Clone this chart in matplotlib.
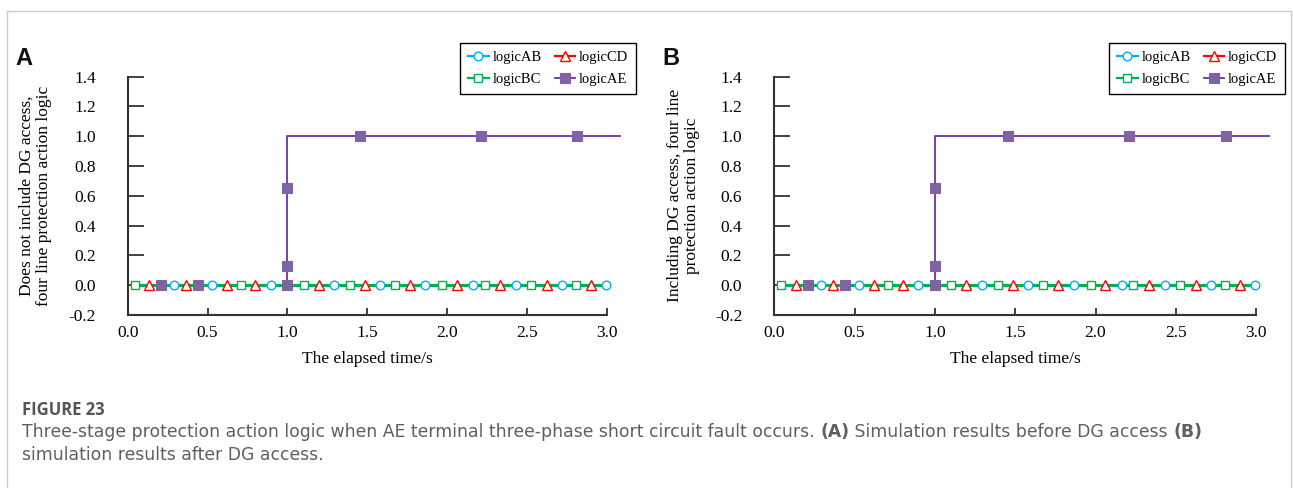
import matplotlib
matplotlib.use("Agg")
import matplotlib.pyplot as plt
from matplotlib.lines import Line2D
from matplotlib.patches import Rectangle

plt.rcParams['font.family'] = ['Liberation Serif', 'DejaVu Serif']
plt.rcParams['axes.unicode_minus'] = False

# ---- data: sampled logic states of the four line protections ----
t_AB = [0.288, 0.530, 0.897, 1.292, 1.582, 1.864, 2.162, 2.430, 2.720, 2.993]
logic_AB = [0, 0, 0, 0, 0, 0, 0, 0, 0, 0]

t_BC = [0.044, 0.709, 1.102, 1.390, 1.672, 1.970, 2.235, 2.528, 2.805]
logic_BC = [0, 0, 0, 0, 0, 0, 0, 0, 0]

t_CD = [0.133, 0.363, 0.620, 0.800, 1.196, 1.488, 1.766, 2.062, 2.334, 2.626, 2.899]
logic_CD = [0, 0, 0, 0, 0, 0, 0, 0, 0, 0, 0]

t_AE = [0.211, 0.443, 1.0, 1.0, 1.0, 1.457, 2.211, 2.812]
logic_AE = [0, 0, 0, 0.13, 0.65, 1, 1, 1]

# AE protection trips at 1.0 s and stays operated
ae_step_t = [0.044, 1.0, 1.0, 3.08]
ae_step_v = [0, 0, 1, 1]

x_ticks = [0.0, 0.5, 1.0, 1.5, 2.0, 2.5, 3.0]
y_ticks = [-0.2, 0.0, 0.2, 0.4, 0.6, 0.8, 1.0, 1.2, 1.4]

panel_letters = ['A', 'B']
y_labels = ['Does not include DG access,\nfour line protection action logic',
            'Including DG access, four line\nprotection action logic']
x_label = 'The elapsed time/s'
series_names = ['logicAB', 'logicBC', 'logicCD', 'logicAE']

caption_title = 'FIGURE 23'
caption_parts = [
    [('Three-stage protection action logic when AE terminal three-phase short circuit fault occurs. ', False),
     ('(A)', True), (' Simulation results before DG access ', False), ('(B)', True)],
    [('simulation results after DG access.', False)],
]

# ---- styles ----
C_AB, C_BC, C_CD = '#00b0f0', '#00b050', '#ff0000'
C_AE_LINE, C_AE_MK = '#7030a0', '#8064a2'

W, H = 1293, 488
fig = plt.figure(figsize=(W / 100, H / 100), dpi=100)

# outer frame of the figure panel
fig.add_artist(Rectangle((7 / W, -0.1), (1291 - 7) / W, 1.1 - 11 / H,
                         transform=fig.transFigure, fill=False,
                         edgecolor='#cccccc', linewidth=1.0))

axes_px = [(127.7, 159.7), (774.3, 160.6)]   # left edge px, px per second
top_px, bot_px = 76.7, 315.0
legend_anchor_px = [(636, 43), (1285, 43)]
letter_px = [(15, 65), (662, 65)]
ylabel_x = [-0.153, -0.149]

style = {
    'AB': dict(color=C_AB, marker='o', mfc='white', mec=C_AB, ms=6.2, mew=1.0),
    'BC': dict(color=C_BC, marker='s', mfc='white', mec=C_BC, ms=6.2, mew=1.0),
    'CD': dict(color=C_CD, marker='^', mfc='white', mec=C_CD, ms=6.8, mew=1.0),
    'AE': dict(color=C_AE_LINE, marker='s', mfc=C_AE_MK, mec=C_AE_MK, ms=6.6, mew=0.8),
}

zero_times = t_AB + t_BC + t_CD
zero_span = [min(zero_times), max(zero_times)]

for i in range(2):
    left, scale = axes_px[i]
    ax = fig.add_axes([left / W, (H - bot_px) / H, 3.1 * scale / W, (bot_px - top_px) / H])
    ax.set_xlim(0, 3.1)
    ax.set_ylim(-0.2, 1.4)

    # connecting lines (green drawn last so it shows on top at zero)
    ax.plot(ae_step_t, ae_step_v, color=C_AE_LINE, lw=1.3, zorder=2)
    ax.plot(zero_span, [logic_AB[0]] * 2, color=C_AB, lw=2.2, zorder=2)
    ax.plot(zero_span, [logic_CD[0]] * 2, color=C_CD, lw=2.2, zorder=2)
    ax.plot(zero_span, [logic_BC[0]] * 2, color=C_BC, lw=2.2, zorder=2)

    # sample markers
    for t, v, key in [(t_AB, logic_AB, 'AB'), (t_BC, logic_BC, 'BC'),
                      (t_CD, logic_CD, 'CD'), (t_AE, logic_AE, 'AE')]:
        s = style[key]
        ax.plot(t, v, linestyle='none', marker=s['marker'], mfc=s['mfc'],
                mec=s['mec'], ms=s['ms'], mew=s['mew'], zorder=4, clip_on=False)

    for sp in ['top', 'right']:
        ax.spines[sp].set_visible(False)
    for sp in ['left', 'bottom']:
        ax.spines[sp].set_color('#333333')
        ax.spines[sp].set_linewidth(1.5)
    ax.spines['bottom'].set_bounds(0, 3.0)

    ax.set_xticks(x_ticks)
    ax.set_xticklabels([f'{v:.1f}' for v in x_ticks])
    ax.set_yticks(y_ticks)
    ax.set_yticklabels([f'{v:.1f}' for v in y_ticks])
    ax.tick_params(axis='y', direction='in', length=11.5, width=1.3, pad=23,
                   labelsize=12.5, color='#333333')
    ax.tick_params(axis='x', direction='in', length=5, width=1.3, pad=7,
                   labelsize=12.5, color='#333333')

    ax.set_xlabel(x_label, fontsize=12.5)
    ax.xaxis.set_label_coords(1.5 / 3.1, -0.152)
    ax.set_ylabel(y_labels[i], fontsize=12.5, linespacing=1.1)
    ax.yaxis.set_label_coords(ylabel_x[i], 0.5)

    handles = []
    for key in ['AB', 'BC', 'CD', 'AE']:
        s = style[key]
        lw = 1.3 if key == 'AE' else 1.6
        handles.append(Line2D([], [], color=s['color'], lw=lw, marker=s['marker'],
                              mfc=s['mfc'], mec=s['mec'], ms=s['ms'], mew=s['mew']))
    lx, ly = legend_anchor_px[i]
    leg = ax.legend(handles, series_names, loc='upper right', ncol=2,
                    bbox_to_anchor=(lx / W, 1 - ly / H), bbox_transform=fig.transFigure,
                    fontsize=10.5, frameon=True, fancybox=False, framealpha=1,
                    edgecolor='black', handlelength=1.4, handletextpad=0.25,
                    columnspacing=0.9, labelspacing=0.6, borderpad=0.55,
                    borderaxespad=0)
    leg.get_frame().set_linewidth(1.0)

    px, py = letter_px[i]
    fig.text(px / W, 1 - py / H, panel_letters[i], family='Liberation Sans',
             weight='bold', fontsize=17, va='baseline', ha='left', color='#111111')

# ---- caption ----
cap_color = '#5f5f5f'
fig.text(22 / W, 1 - 415 / H, caption_title, family='Open Sans', weight='bold',
         fontsize=12, color='#555555', va='baseline')

renderer = fig.canvas.get_renderer()
baselines = [437, 460]
for parts, base in zip(caption_parts, baselines):
    x = 22
    for txt, bold in parts:
        t = fig.text(x / W, 1 - base / H, txt, family='DejaVu Sans',
                     weight='bold' if bold else 'normal', fontsize=12.4,
                     color=cap_color, va='baseline', ha='left')
        bb = t.get_window_extent(renderer=renderer)
        x = bb.x1

fig.savefig('out.png', dpi=100)
